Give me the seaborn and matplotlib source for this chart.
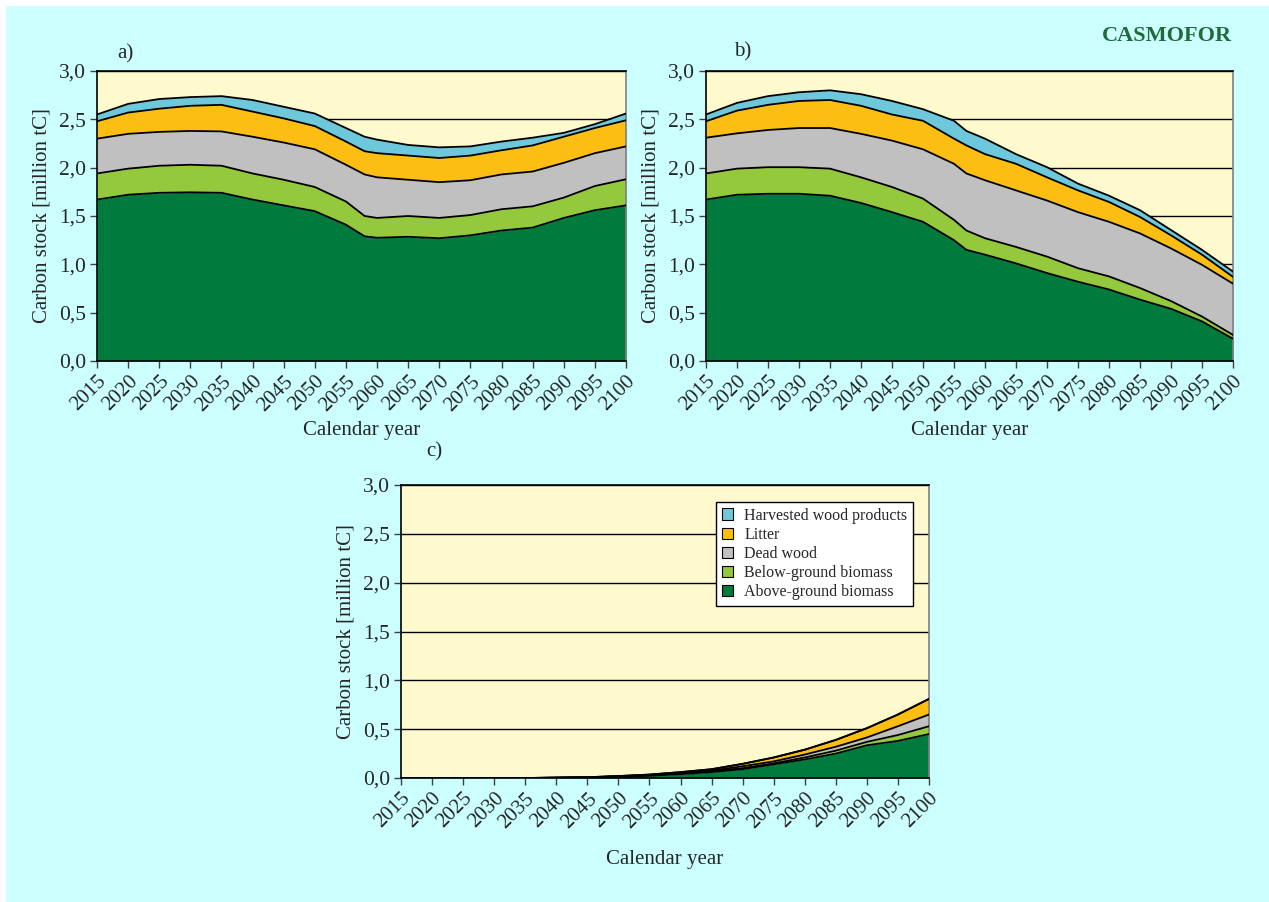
import numpy as np
import seaborn as sns
import matplotlib.pyplot as plt
from matplotlib.patches import Patch, Rectangle

# layer names, bottom to top
layers = ['Above-ground biomass', 'Below-ground biomass', 'Dead wood', 'Litter',
          'Harvested wood products']
colors = ['#007A3D', '#95C93D', '#C0C0C0', '#FDBE14', '#6CC8DA']

# panel a) - cumulative upper edge of each layer, million tC
years_a = [2015, 2020, 2025, 2030, 2035, 2040, 2045, 2050, 2055, 2058, 2060,
           2065, 2070, 2075, 2080, 2085, 2090, 2095, 2100]
a_above = [1.67, 1.72, 1.74, 1.745, 1.74, 1.67, 1.61, 1.55, 1.41, 1.29, 1.275,
           1.285, 1.27, 1.30, 1.35, 1.38, 1.48, 1.56, 1.61]
a_below = [1.94, 1.99, 2.02, 2.03, 2.02, 1.94, 1.875, 1.80, 1.65, 1.50, 1.48,
           1.50, 1.48, 1.51, 1.57, 1.60, 1.69, 1.81, 1.88]
a_dead = [2.30, 2.35, 2.37, 2.38, 2.375, 2.32, 2.26, 2.19, 2.03, 1.93, 1.90,
          1.875, 1.85, 1.87, 1.93, 1.96, 2.05, 2.15, 2.22]
a_litter = [2.48, 2.57, 2.61, 2.64, 2.65, 2.58, 2.51, 2.43, 2.27, 2.17, 2.15,
            2.125, 2.10, 2.125, 2.18, 2.23, 2.32, 2.41, 2.49]
a_hwp = [2.55, 2.66, 2.71, 2.73, 2.74, 2.70, 2.63, 2.56, 2.41, 2.32, 2.29,
         2.235, 2.21, 2.22, 2.27, 2.31, 2.36, 2.45, 2.56]

# panel b)
years_b = [2015, 2020, 2025, 2030, 2035, 2040, 2045, 2050, 2055, 2057, 2060,
           2065, 2070, 2075, 2080, 2085, 2090, 2095, 2100]
b_above = [1.67, 1.72, 1.73, 1.73, 1.71, 1.635, 1.54, 1.44, 1.25, 1.15, 1.10,
           1.01, 0.91, 0.82, 0.74, 0.635, 0.54, 0.41, 0.23]
b_below = [1.94, 1.99, 2.005, 2.005, 1.99, 1.90, 1.80, 1.68, 1.46, 1.35, 1.27,
           1.18, 1.08, 0.96, 0.875, 0.755, 0.62, 0.46, 0.27]
b_dead = [2.31, 2.355, 2.39, 2.41, 2.41, 2.35, 2.28, 2.19, 2.04, 1.94, 1.87,
          1.765, 1.66, 1.54, 1.44, 1.32, 1.165, 0.995, 0.80]
b_litter = [2.48, 2.59, 2.65, 2.69, 2.70, 2.64, 2.55, 2.485, 2.30, 2.23, 2.14,
            2.04, 1.90, 1.765, 1.645, 1.49, 1.30, 1.10, 0.87]
b_hwp = [2.55, 2.67, 2.74, 2.78, 2.80, 2.76, 2.69, 2.605, 2.485, 2.38, 2.30,
         2.14, 2.005, 1.835, 1.71, 1.56, 1.355, 1.15, 0.925]

# panel c)
years_c = [2015, 2020, 2025, 2030, 2035, 2040, 2045, 2050, 2055, 2060, 2065,
           2070, 2075, 2080, 2085, 2090, 2095, 2100]
c_above = [0, 0, 0, 0, 0, 0.002, 0.005, 0.012, 0.023, 0.04, 0.06, 0.09, 0.14,
           0.19, 0.25, 0.335, 0.38, 0.45]
c_below = [0, 0, 0, 0, 0, 0.003, 0.006, 0.015, 0.027, 0.045, 0.07, 0.10, 0.15,
           0.21, 0.28, 0.37, 0.44, 0.53]
c_dead = [0, 0, 0, 0, 0, 0.003, 0.007, 0.017, 0.03, 0.05, 0.075, 0.12, 0.17,
          0.24, 0.32, 0.415, 0.53, 0.65]
c_litter = [0, 0, 0, 0, 0, 0.004, 0.008, 0.02, 0.035, 0.06, 0.09, 0.145, 0.21,
            0.29, 0.39, 0.51, 0.65, 0.81]
c_hwp = [0, 0, 0, 0, 0, 0.004, 0.008, 0.02, 0.035, 0.06, 0.09, 0.145, 0.21,
         0.29, 0.39, 0.51, 0.65, 0.81]

year_ticks = list(range(2015, 2101, 5))
y_ticks = [0, 0.5, 1.0, 1.5, 2.0, 2.5, 3.0]
y_labels = ['0,0', '0,5', '1,0', '1,5', '2,0', '2,5', '3,0']

sns.set_style('ticks')
plt.rcParams['font.family'] = ['Liberation Serif', 'DejaVu Serif']

W, H = 1269, 902
fig = plt.figure(figsize=(W / 100, H / 100), dpi=100)
fig.patch.set_facecolor('white')
fig.add_artist(Rectangle((6 / W, 0), 1, 1 - 6 / H, transform=fig.transFigure,
                         facecolor='#CCFFFF', edgecolor='none', zorder=-10))


def panel(rect, years, tops, letter, letter_pos, xpad):
    ax = fig.add_axes(rect)
    ax.set_facecolor('#FFF9CE')
    x = np.array(years)
    lower = np.zeros(len(x))
    for top, col in zip(tops, colors):
        top = np.array(top)
        ax.fill_between(x, lower, top, color=col, lw=0, zorder=2)
        lower = top
    for top in tops:
        sns.lineplot(x=x, y=top, ax=ax, color='black', lw=1.3, zorder=3,
                     legend=False)
    ax.set_xlim(2015, 2100)
    ax.set_ylim(0, 3.0)
    ax.set_yticks(y_ticks)
    ax.set_yticklabels(y_labels, fontsize=15.5)
    ax.set_xticks(year_ticks)
    ax.set_xticklabels([str(t) for t in year_ticks], fontsize=15, rotation=45,
                       ha='right', rotation_mode='anchor')
    ax.tick_params(axis='both', direction='out', length=5, width=1,
                   color='#404040', pad=3)
    ax.yaxis.grid(True, color='black', lw=1)
    ax.xaxis.grid(False)
    ax.set_axisbelow(True)
    for side in ['left', 'bottom', 'top']:
        ax.spines[side].set_color('black')
        ax.spines[side].set_linewidth(1.2)
    ax.spines['right'].set_visible(True)
    ax.spines['right'].set_color('#808080')
    ax.spines['right'].set_linewidth(1.2)
    ax.set_xlabel('Calendar year', fontsize=15, labelpad=xpad)
    ax.set_ylabel('Carbon stock [million tC]', fontsize=15, labelpad=5)
    fig.text(letter_pos[0] / W, 1 - letter_pos[1] / H, letter, fontsize=15,
             ha='center', va='center')
    return ax


panel([97 / W, 1 - 361 / H, 529 / W, 290 / H], years_a,
      [a_above, a_below, a_dead, a_litter, a_hwp], 'a)', (125, 54), 4)
panel([706 / W, 1 - 361 / H, 527 / W, 290 / H], years_b,
      [b_above, b_below, b_dead, b_litter, b_hwp], 'b)', (743, 52), 4)
ax_c = panel([401 / W, 1 - 778 / H, 528 / W, 293 / H], years_c,
             [c_above, c_below, c_dead, c_litter, c_hwp], 'c)', (434, 452), 13)

handles = [Patch(facecolor=c, edgecolor='black', lw=0.8, label=l)
           for l, c in zip(layers, colors)][::-1]
leg = ax_c.legend(handles=handles, loc='upper right',
                  bbox_to_anchor=(0.97, 0.942), fontsize=11.5, frameon=True,
                  fancybox=False, handlelength=0.7, handleheight=0.7,
                  handletextpad=0.7, borderpad=0.35, labelspacing=0.2,
                  borderaxespad=0)
leg.get_frame().set_edgecolor('black')
leg.get_frame().set_facecolor('white')
leg.get_frame().set_alpha(1)
leg.get_frame().set_linewidth(1)

fig.text(1167 / W, 1 - 36 / H, 'CASMOFOR', fontsize=16, fontweight='bold',
         color='#1F6B3B', ha='center', va='center')

fig.savefig('out.png', dpi=100, facecolor=fig.get_facecolor())
